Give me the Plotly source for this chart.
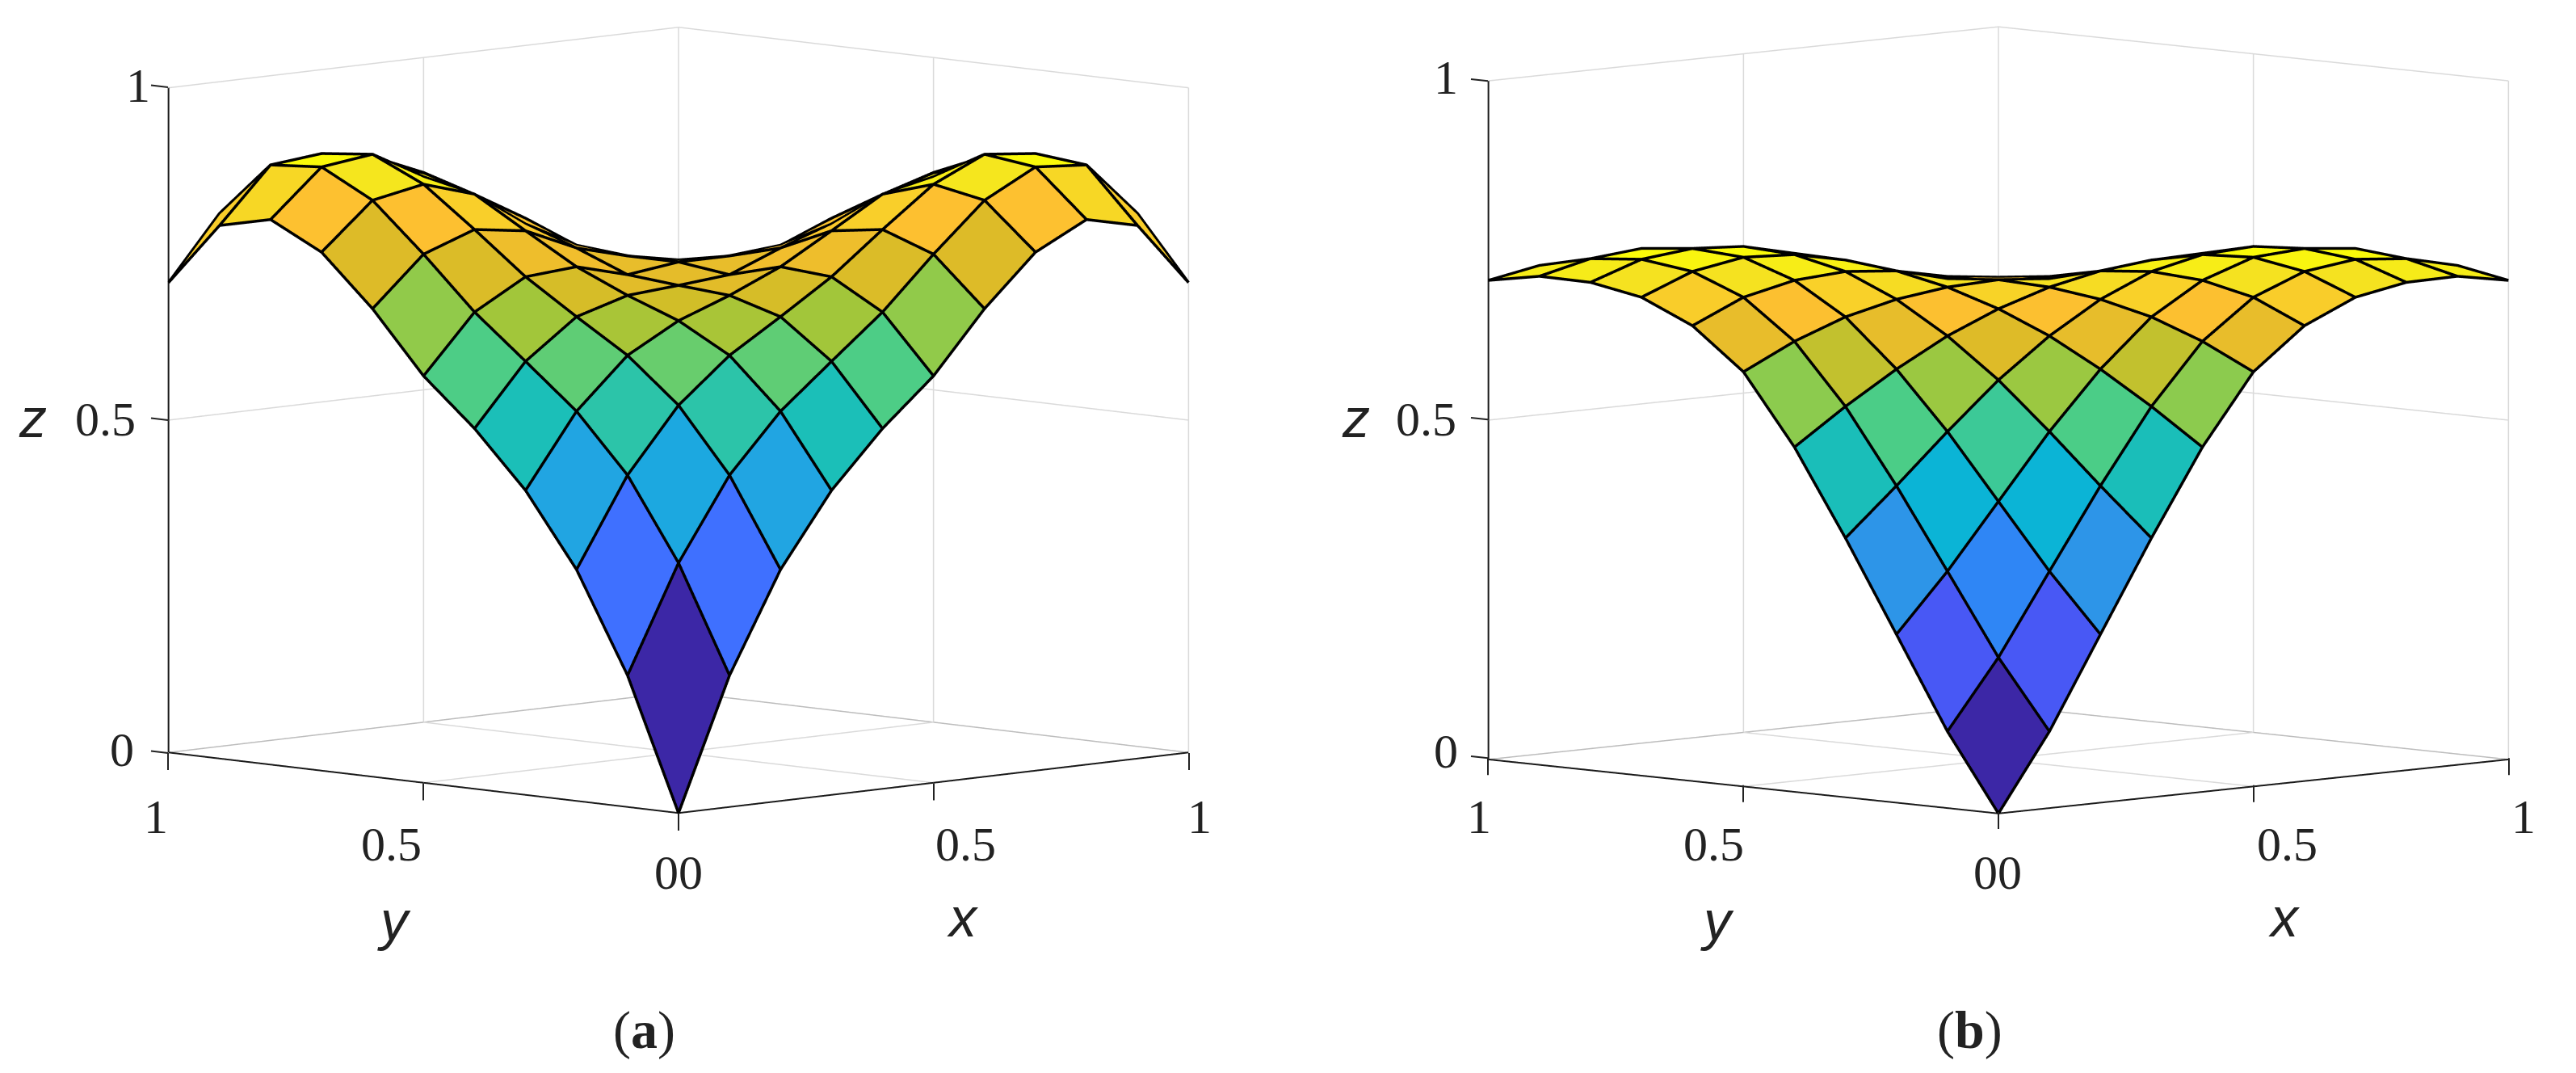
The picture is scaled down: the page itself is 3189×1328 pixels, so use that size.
import plotly.graph_objects as go

W, H = 3189, 1328
N = 11
grid = [i / 10 for i in range(N)]
ticks = [0, 0.5, 1]

# upper triangle of each symmetric surface: row i holds z(x_i, y_j) for j = i..10
z_a_rows = [
    [0.000, 0.198, 0.348, 0.458, 0.542, 0.612, 0.704, 0.780, 0.820, 0.802, 0.707],
    [0.358, 0.481, 0.568, 0.634, 0.699, 0.777, 0.849, 0.890, 0.884, 0.802],
    [0.577, 0.643, 0.692, 0.743, 0.805, 0.864, 0.900, 0.892, 0.860],
    [0.686, 0.715, 0.749, 0.794, 0.840, 0.857, 0.870, 0.860],
    [0.721, 0.728, 0.759, 0.786, 0.820, 0.843, 0.860],
    [0.738, 0.738, 0.745, 0.775, 0.803, 0.827],
    [0.720, 0.720, 0.725, 0.750, 0.785],
    [0.700, 0.700, 0.705, 0.740],
    [0.682, 0.680, 0.690],
    [0.665, 0.665],
    [0.650],
]
z_b_rows = [
    [0.000, 0.113, 0.248, 0.382, 0.508, 0.611, 0.671, 0.705, 0.719, 0.720, 0.706],
    [0.214, 0.333, 0.451, 0.560, 0.648, 0.705, 0.735, 0.745, 0.738, 0.720],
    [0.428, 0.523, 0.607, 0.676, 0.722, 0.748, 0.753, 0.745, 0.722],
    [0.591, 0.648, 0.694, 0.727, 0.744, 0.748, 0.737, 0.729],
    [0.680, 0.704, 0.720, 0.728, 0.727, 0.725, 0.721],
    [0.707, 0.700, 0.700, 0.705, 0.710, 0.716],
    [0.685, 0.685, 0.683, 0.690, 0.698],
    [0.670, 0.670, 0.668, 0.680],
    [0.655, 0.650, 0.656],
    [0.640, 0.640],
    [0.631],
]

# colormap sampled from the faces: (fraction of the surface maximum, colour)
cmap_stops = [0, 0.15, 0.22, 0.284, 0.33, 0.388, 0.442, 0.51, 0.533, 0.60, 0.635,
              0.68, 0.71, 0.765, 0.78, 0.868, 0.91, 0.945, 0.99, 1]
cmap_colors = ["#3C27A6", "#4858F5", "#3F70FF", "#2F86F5", "#2D95E8", "#20A6E2", "#0AB4D6",
               "#1BBFB8", "#2BC4AA", "#4BCD87", "#62CD73", "#8FCB4B", "#A5C538", "#D2BE28",
               "#DCBB28", "#FDC030", "#F7D626", "#F5E61E", "#FAFA0A", "#FAFA0A"]
colorscale = [[s, c] for s, c in zip(cmap_stops, cmap_colors)]

PAD = 0.05          # hidden axes run a little past [0, 1] so lifted lines are not clipped
LIFT = 0.012        # mesh lines sit this far towards the viewer, clear of the faces


def full(rows):
    z = [[0.0] * N for _ in range(N)]
    for i, row in enumerate(rows):
        for k, v in enumerate(row):
            z[i][i + k] = v
            z[i + k][i] = v
    return z


def polyline(fig, segments, color, width, scene):
    lx, ly, lz = [], [], []
    for seg in segments:
        for p in seg:
            lx.append(p[0]); ly.append(p[1]); lz.append(p[2])
        lx.append(None); ly.append(None); lz.append(None)
    fig.add_trace(go.Scatter3d(x=lx, y=ly, z=lz, mode="lines",
                               line=dict(color=color, width=width),
                               hoverinfo="skip", showlegend=False, scene=scene))


def add_box(fig, scene):
    light, dark = [], []
    for t in ticks:
        if t > 0:
            light.append([(1, 0, t), (1, 1, t)])
            light.append([(0, 1, t), (1, 1, t)])
            light.append([(t, 1, 0), (t, 1, 1)])
        light.append([(1, t, 0), (1, t, 1)])
        if 0 < t < 1:
            light.append([(t, 0, 0), (t, 1, 0)])
            light.append([(0, t, 0), (1, t, 0)])
    dark.append([(1, 0, 0), (1, 1, 0)])
    dark.append([(0, 1, 0), (1, 1, 0)])
    polyline(fig, light, "#DADADA", 3, scene)
    polyline(fig, dark, "#BDBDBD", 3, scene)


def add_surface(fig, rows, scene, zratio, h):
    z = full(rows)
    zmax = max(max(r) for r in z)
    xs, ys, zs = [], [], []
    for i in range(N):
        for j in range(N):
            xs.append(grid[i]); ys.append(grid[j]); zs.append(z[i][j])
    fi, fj, fk, cell = [], [], [], []
    for i in range(N - 1):
        for j in range(N - 1):
            a, b, c, d = i * N + j, (i + 1) * N + j, (i + 1) * N + j + 1, i * N + j + 1
            fi += [a, a]; fj += [b, c]; fk += [c, d]
            cell += [z[i][j], z[i][j]]
    fig.add_trace(go.Mesh3d(
        x=xs, y=ys, z=zs, i=fi, j=fj, k=fk, intensity=cell, intensitymode="cell",
        colorscale=colorscale, cmin=0, cmax=zmax, showscale=False, flatshading=True,
        lighting=dict(ambient=1, diffuse=0, specular=0, roughness=1, fresnel=0),
        hoverinfo="skip", scene=scene))

    def lifted(i, j):
        return (grid[i] - LIFT, grid[j] - LIFT, z[i][j] + LIFT * h / zratio)

    edges = [[lifted(i, j) for j in range(N)] for i in range(N)]
    edges += [[lifted(i, j) for i in range(N)] for j in range(N)]
    polyline(fig, edges, "black", 7, scene)
    axes = [[(0, 0, 0), (1, 0, 0)], [(0, 0, 0), (0, 1, 0)], [(0, 1, 0), (0, 1, 1)]]
    polyline(fig, axes, "#1A1A1A", 4, scene)


def axis():
    return dict(range=[-PAD, 1 + PAD], tickvals=ticks, showticklabels=False,
                title=dict(text=""), showgrid=False, zeroline=False, showbackground=False,
                showspikes=False, showline=False, ticks="")


def scene_layout(x0, x1, scale, zratio, h):
    k = 1 + 2 * PAD
    return dict(domain=dict(x=[x0 / W, x1 / W], y=[1 - 1040 / H, 1]),
                xaxis=axis(), yaxis=axis(), zaxis=axis(),
                aspectmode="manual", aspectratio=dict(x=scale * k, y=scale * k, z=scale * zratio * k),
                camera=dict(eye=dict(x=-1, y=-1, z=h), up=dict(x=0, y=0, z=1),
                            center=dict(x=0, y=0, z=0),
                            projection=dict(type="orthographic")))


fig = go.Figure()
add_box(fig, "scene")
add_surface(fig, z_a_rows, "scene", 0.928, 0.169)
add_box(fig, "scene2")
add_surface(fig, z_b_rows, "scene2", 0.946, 0.1507)


def txt(x, y, text, size=60, family="Liberation Serif"):
    return dict(x=x / W, y=1 - y / H, xref="paper", yref="paper", text=text, showarrow=False,
                xanchor="center", yanchor="middle", font=dict(family=family, size=size, color="#222222"))


sc = 2.034
ann = []
for pts in [
    [(84, 52, "1"), (64, 255, "0.5"), (74, 456, "0"), (95, 497, "1"), (238, 514, "0.5"),
     (413, 531, "00"), (588, 514, "0.5"), (730, 497, "1")],
    [(880, 47, "1"), (868, 255, "0.5"), (880, 457, "0"), (900, 497, "1"), (1043, 514, "0.5"),
     (1216, 531, "00"), (1392, 514, "0.5"), (1536, 497, "1")],
]:
    for px, py, t in pts:
        ann.append(txt(px * sc, py * sc, t))
for px, py, t in [(240, 560, "y"), (586, 558, "x"), (20, 254, "z"),
                  (1045, 560, "y"), (1390, 558, "x"), (825, 254, "z")]:
    ann.append(txt(px * sc, py * sc, "<i>%s</i>" % t, size=68, family="Liberation Sans"))
ann.append(txt(392 * sc, 627 * sc, "(<b>a</b>)", size=66))
ann.append(txt(1199 * sc, 627 * sc, "(<b>b</b>)", size=66))


def tick_shapes(ax, ay, ux, uy, uz):
    """Short tick marks, placed from the tick values through the panel's projection."""
    out = []

    def seg(x0, y0, dx, dy):
        return dict(type="line", xref="paper", yref="paper", x0=x0 / W, y0=1 - y0 / H,
                    x1=(x0 + dx) / W, y1=1 - (y0 + dy) / H,
                    line=dict(color="#222222", width=2))

    for t in ticks:
        out.append(seg(ax + ux * t, ay - uy * t, 0, 21))
        if t > 0:
            out.append(seg(ax - ux * t, ay - uy * t, 0, 21))
        out.append(seg(ax - ux, ay - uy - uz * t, -21, -2.4))
    return out


fig.update_layout(
    width=W, height=H, margin=dict(l=0, r=0, t=0, b=0), paper_bgcolor="white",
    showlegend=False, annotations=ann,
    shapes=tick_shapes(840, 1007, 632, 75, 824) + tick_shapes(2474, 1005, 632, 66.7, 838),
    scene=scene_layout(125, 1555, 1.717, 0.928, 0.169),
    scene2=scene_layout(1759, 3189, 1.717, 0.946, 0.1507),
)
fig.write_html("out.html", config=dict(displayModeBar=False),
               post_script="document.body.style.margin='0';")
